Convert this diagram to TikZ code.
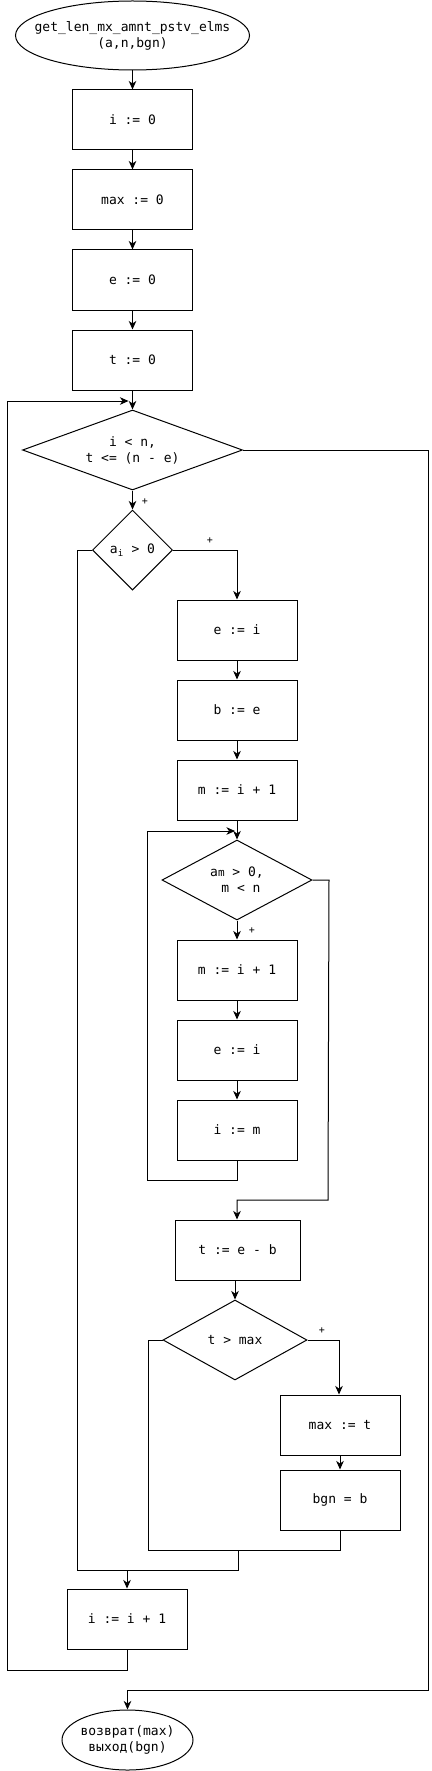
\documentclass[tikz,border=0pt]{standalone}
\usepackage{fontspec}
\setmonofont{DejaVu Sans Mono}
\usetikzlibrary{shapes.geometric,arrows.meta}
\tikzset{
  base/.style={draw, line width=1pt, inner sep=0pt, font=\ttfamily\fontsize{13}{16}\selectfont, align=center},
  proc/.style={base, rectangle, minimum width=120pt, minimum height=60pt},
  term/.style={base, ellipse},
  cond/.style={base, diamond},
  conn/.style={line width=1pt},
  arr/.style={conn, -{Stealth[length=8.5pt,width=7.5pt,inset=2.5pt]}},
  plus/.style={font=\ttfamily\fontsize{10}{10}\selectfont, inner sep=0pt}
}
\begin{document}
\begin{tikzpicture}[x=1pt,y=-1pt]
\useasboundingbox (0,0) rectangle (431,1771);
% nodes
\node[term, inner xsep=-16pt, minimum width=234pt, minimum height=69pt] (start) at (132.5,35.5) {get\_len\_mx\_amnt\_pstv\_elms\\(a,n,bgn)};
\node[proc] (b1) at (132.5,120) {i := 0};
\node[proc] (b2) at (132.5,200) {max := 0};
\node[proc] (b3) at (132.5,280) {e := 0};
\node[proc] (b4) at (132.5,360) {t := 0};
\node[cond, aspect=2.75, minimum width=220pt, minimum height=80pt] (d1) at (132.5,450) {i < n,\\t <= (n - e)};
\node[cond, aspect=1, minimum width=80pt, minimum height=80pt] (d2) at (132.5,550) {a\textsubscript{i} > 0};
\node[proc] (e1) at (237,630) {e := i};
\node[proc] (e2) at (237,710) {b := e};
\node[proc] (e3) at (237,790) {m := i + 1};
\node[cond, aspect=1.875, minimum width=150pt, minimum height=80pt] (d3) at (237,880) {a{\fontsize{11}{11}\selectfont m} > 0,\\\ m < n};
\node[proc] (f1) at (237,970) {m := i + 1};
\node[proc] (f2) at (237,1050) {e := i};
\node[proc] (f3) at (237,1130) {i := m};
\node[proc, minimum width=125pt] (tb) at (237.5,1250) {t := e - b};
\node[cond, aspect=1.8, minimum width=144pt, minimum height=80pt] (d4) at (235,1340) {t > max};
\node[proc] (mx) at (340,1425) {max := t};
\node[proc] (bg) at (340,1500) {bgn = b};
\node[proc] (b5) at (127,1619) {i := i + 1};
\node[term, inner xsep=-2pt, minimum width=131pt, minimum height=60pt] (end) at (127.5,1740) {возврат(max)\\выход(bgn)};
% labels
\node[plus] (p1) at (145,502) {+};
\node[plus] (p2) at (210,541) {+};
\node[plus] (p3) at (252,931) {+};
\node[plus] (p4) at (322,1331) {+};
% helper coordinates
\coordinate (lpA) at (7,1670);
\coordinate (lpB) at (7,401);
\coordinate (exA) at (428,450);
\coordinate (exB) at (428,1690);
\coordinate (exC) at (127.5,1690);
\coordinate (brR) at (237,550);
\coordinate (brL) at (77,550);
\coordinate (brLb) at (77,1570);
\coordinate (mg2) at (238,1570);
\coordinate (mg2t) at (238,1550);
\coordinate (mgIn) at (127,1570);
\coordinate (ilA) at (237,1180);
\coordinate (ilB) at (147,1180);
\coordinate (ilC) at (147,831);
\coordinate (ilD) at (237,831);
\coordinate (d3A) at (329,880);
\coordinate (d3B) at (328,1200);
\coordinate (d3C) at (237,1200);
\coordinate (d4R) at (339,1340);
\coordinate (bgA) at (340,1550);
\coordinate (bgB) at (148,1550);
\coordinate (bgC) at (148,1340);
% connectors
\draw[arr] (start) -- (b1);
\draw[arr] (b1) -- (b2);
\draw[arr] (b2) -- (b3);
\draw[arr] (b3) -- (b4);
\draw[arr] (b4) -- (d1);
\draw[arr, shorten >=4pt] (b5.south) |- (lpA) -- (lpB) -- (lpB -| d1.north);
\draw[arr] (d1) -- (d2);
\draw[arr] (d1.east) -- (exA) -- (exB) -- (exC) -- (end.north);
\draw[arr] (d2.east) -- (brR) -- (e1.north);
\draw[conn] (d2.west) -- (brL) -- (brLb) -- (mg2) -- (mg2t);
\draw[arr] (mgIn) -- (b5.north);
\draw[arr] (e1) -- (e2);
\draw[arr] (e2) -- (e3);
\draw[arr] (e3) -- (d3);
\draw[arr] (d3) -- (f1);
\draw[arr] (f1) -- (f2);
\draw[arr] (f2) -- (f3);
\draw[arr, shorten >=2pt] (f3.south) -- (ilA) -- (ilB) -- (ilC) -- (ilD);
\draw[arr] (d3.east) -- (d3A) -- (d3B) -- (d3C) -- (tb.north -| d3C);
\draw[arr] (tb.south -| d4.north) -- (d4.north);
\draw[arr] (d4.east) -- (d4R) -- (mx.north -| d4R);
\draw[arr] (mx) -- (bg);
\draw[conn] (bg.south) -- (bgA) -- (bgB) -- (bgC) -- (d4.west);
\end{tikzpicture}
\end{document}
